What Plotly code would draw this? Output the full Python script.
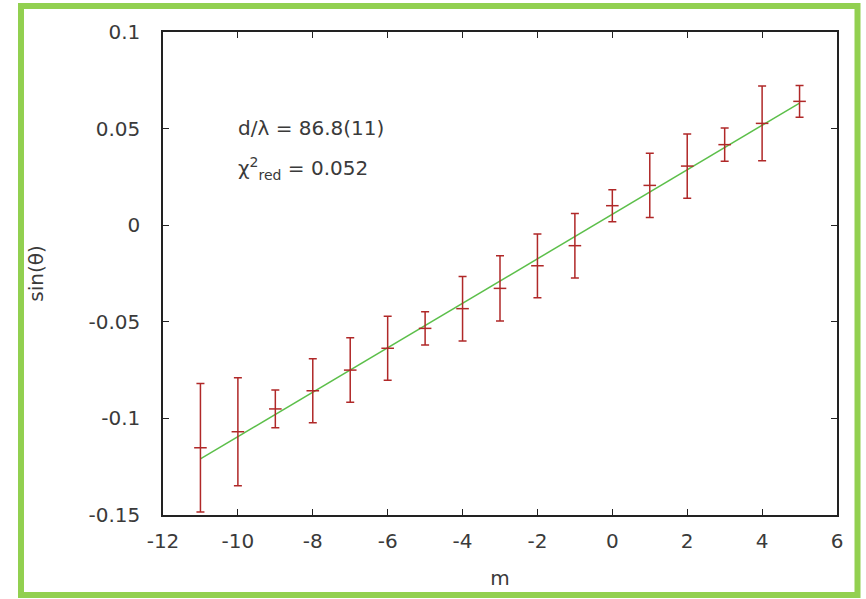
import plotly.graph_objects as go

# data
m_vals = [-11, -10, -9, -8, -7, -6, -5, -4, -3, -2, -1, 0, 1, 2, 3, 4, 5]
sin_theta = [-0.1152, -0.1069, -0.0951, -0.0857, -0.0750, -0.0637, -0.0534, -0.0432,
             -0.0327, -0.0210, -0.0106, 0.0101, 0.0206, 0.0306, 0.0417, 0.0527, 0.0641]
sin_err = [0.0333, 0.0280, 0.0098, 0.0166, 0.0167, 0.0166, 0.0086, 0.0167,
           0.0169, 0.0165, 0.0167, 0.0083, 0.0166, 0.0166, 0.0086, 0.0193, 0.0082]

fit_m = [-11, 5]
fit_y = [-0.1210, 0.0632]

x_ticks = [-12, -10, -8, -6, -4, -2, 0, 2, 4, 6]
x_tick_text = ["-12", "-10", "-8", "-6", "-4", "-2", "0", "2", "4", "6"]
y_ticks = [-0.15, -0.1, -0.05, 0, 0.05, 0.1]
y_tick_text = ["-0.15", "-0.1", "-0.05", "0", "0.05", "0.1"]

font_family = "DejaVu Sans"
text_color = "#3a3a3a"
err_color = "#b02828"

fig = go.Figure()

fig.add_trace(go.Scatter(
    x=fit_m, y=fit_y, mode="lines",
    line=dict(color="#5cbf4a", width=1.5),
    showlegend=False, hoverinfo="skip",
))

fig.add_trace(go.Scatter(
    x=m_vals, y=sin_theta, mode="markers",
    marker=dict(symbol="line-ew", size=9, color=err_color,
                line=dict(color=err_color, width=1.5)),
    error_y=dict(type="data", array=sin_err, visible=True,
                 color=err_color, thickness=1.5, width=4),
    showlegend=False,
))

axis_common = dict(
    showgrid=False, zeroline=False, showline=True,
    linecolor="#222222", linewidth=1.5, mirror="ticks",
    ticks="inside", ticklen=6, tickwidth=1, tickcolor="#222222",
    tickfont=dict(family=font_family, size=20, color=text_color),
)

fig.update_xaxes(
    range=[-12, 6], tickvals=x_ticks, ticktext=x_tick_text,
    ticklabelstandoff=7,
    title=dict(text="m", font=dict(family=font_family, size=20, color=text_color),
               standoff=19),
    **axis_common,
)
fig.update_yaxes(
    range=[-0.15, 0.1], tickvals=y_ticks, ticktext=y_tick_text,
    ticklabelstandoff=17,
    title=dict(text="sin(θ)", font=dict(family=font_family, size=20, color=text_color),
               standoff=40),
    **axis_common,
)

fig.add_annotation(
    xref="paper", yref="paper",
    x=(236 - 163) / 674, y=(515 - 128) / 483,
    xanchor="left", yanchor="middle", showarrow=False,
    text="d/λ = 86.8(11)",
    font=dict(family=font_family, size=20, color=text_color),
)
fig.add_annotation(
    xref="paper", yref="paper",
    x=(236 - 163) / 674, y=(515 - 168) / 483,
    xanchor="left", yanchor="middle", showarrow=False,
    text="χ<sup>2</sup><sub>red</sub> = 0.052",
    font=dict(family=font_family, size=20, color=text_color),
)

# green frame around the picture
fig.add_shape(
    type="rect", xref="paper", yref="paper",
    x0=(21 - 163) / 674, x1=(857.5 - 163) / 674,
    y0=(515 - 595) / 483, y1=(515 - 6) / 483,
    line=dict(color="#92d050", width=6), fillcolor="rgba(0,0,0,0)",
    layer="below",
)

fig.update_layout(
    width=866, height=599,
    margin=dict(l=163, r=29, t=32, b=84),
    paper_bgcolor="white", plot_bgcolor="white",
    font=dict(family=font_family, color=text_color),
)

fig.write_html(
    "out.html",
    config={"displayModeBar": False},
    post_script="document.body.style.margin='0';document.body.style.overflow='hidden';",
)
